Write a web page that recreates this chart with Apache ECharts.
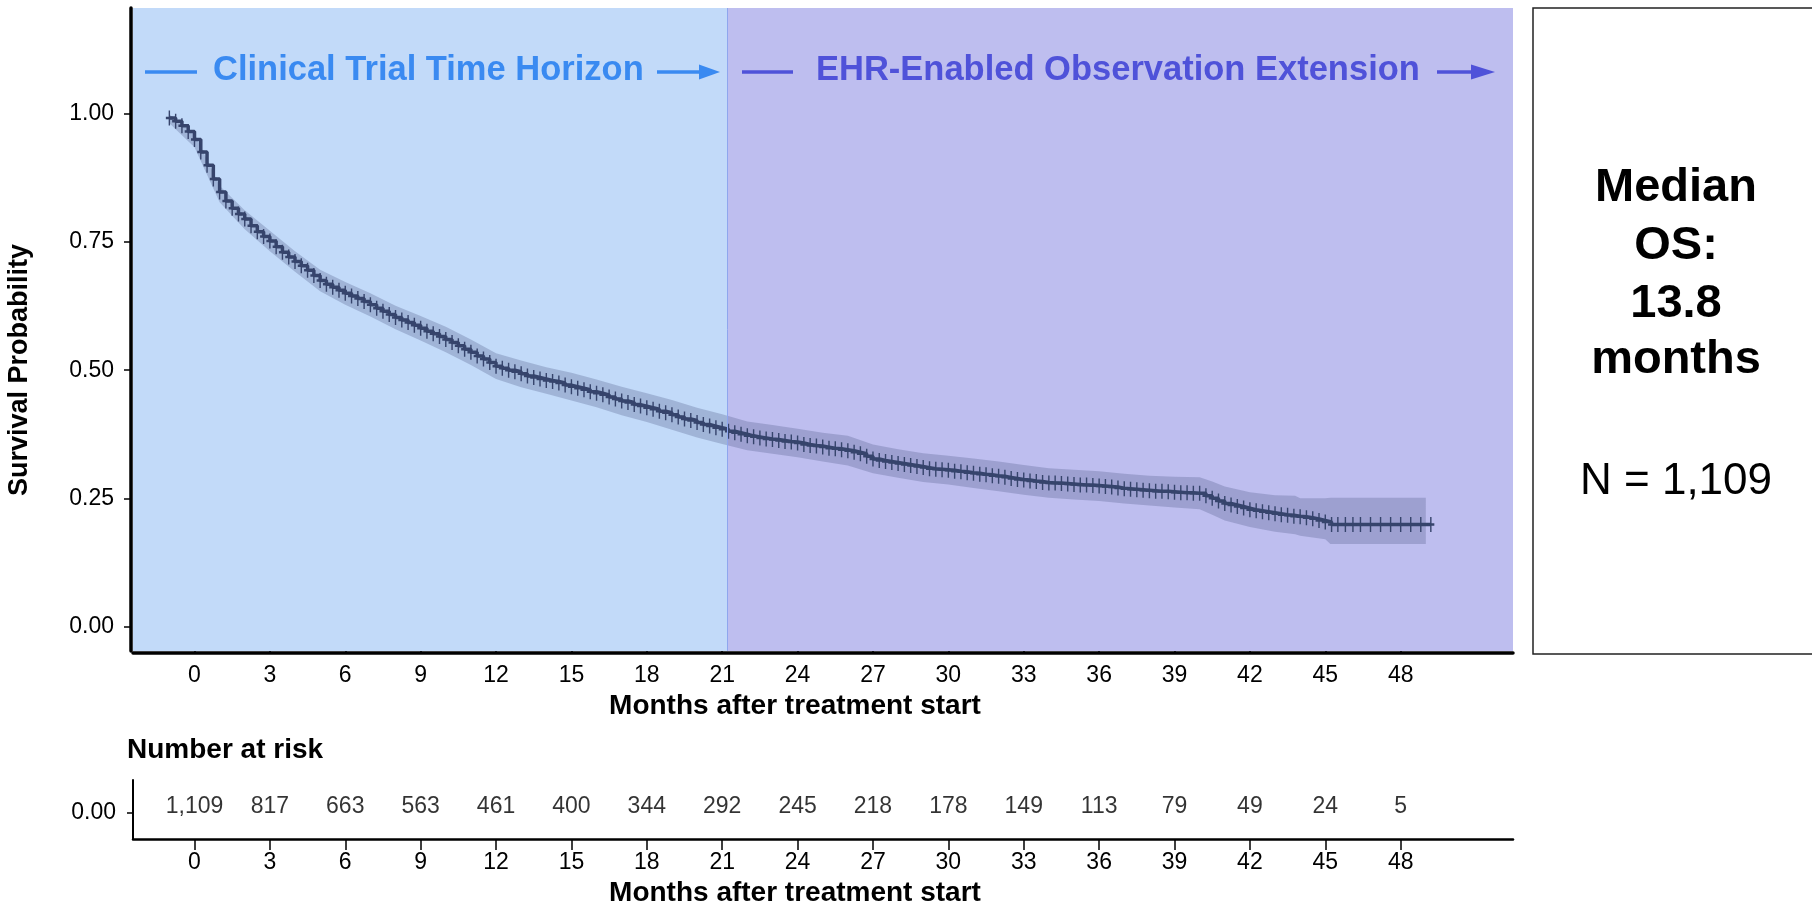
<!DOCTYPE html>
<html>
<head>
<meta charset="utf-8">
<script src="https://cdn.jsdelivr.net/npm/echarts@6/dist/echarts.min.js"></script>
<style>
html,body{margin:0;padding:0;background:#fff;}
#chart{width:1812px;height:908px;}
</style>
</head>
<body>
<div id="chart"></div>
<script>
// ---------------- data ----------------
const xTicks = [0,3,6,9,12,15,18,21,24,27,30,33,36,39,42,45,48];
const yTicks = [0,0.25,0.5,0.75,1];
const phaseBoundary = 21.2;

const kmTime = [
  -1.00,-0.75,-0.50,-0.25,
  0.00,0.25,0.50,0.75,   1.00,1.25,1.50,1.75,   2.00,2.25,2.50,2.75,   3.00,3.25,3.50,3.75,
  4.00,4.25,4.50,4.75,   5.00,5.25,5.50,5.75,   6.00,6.25,6.50,6.75,   7.00,7.25,7.50,7.75,
  8.00,8.25,8.50,8.75,   9.00,9.25,9.50,9.75,   10.00,10.25,10.50,10.75, 11.00,11.25,11.50,11.75,
  12.00,12.25,12.50,12.75, 13.00,13.25,13.50,13.75, 14.00,14.25,14.50,14.75, 15.00,15.25,15.50,15.75,
  16.00,16.25,16.50,16.75, 17.00,17.25,17.50,17.75, 18.00,18.25,18.50,18.75, 19.00,19.25,19.50,19.75,
  20.00,20.25,20.50,20.75, 21.00,21.25,21.50,21.75, 22.00,22.25,22.50,22.75, 23.00,23.25,23.50,23.75,
  24.00,24.25,24.50,24.75, 25.00,25.25,25.50,25.75, 26.00,26.25,26.50,26.75, 27.00,27.25,27.50,27.75,
  28.00,28.25,28.50,28.75, 29.00,29.25,29.50,29.75, 30.00,30.25,30.50,30.75, 31.00,31.25,31.50,31.75,
  32.00,32.25,32.50,32.75, 33.00,33.25,33.50,33.75, 34.00,34.25,34.50,34.75, 35.00,35.25,35.50,35.75,
  36.00,36.25,36.50,36.75, 37.00,37.25,37.50,37.75, 38.00,38.25,38.50,38.75, 39.00,39.25,39.50,39.75,
  40.00,40.25,40.50,40.75, 41.00,41.25,41.50,41.75, 42.00,42.25,42.50,42.75, 43.00,43.25,43.50,43.75,
  44.00,44.25,44.50,44.75, 45.00,45.25,
  45.5,45.8,46.1,46.4,46.8,47.2,47.6,48.0,48.4,48.8,49.2];
const kmSurv = [
  0.992,0.986,0.977,0.966,
  0.950,0.926,0.900,0.873,  0.848,0.830,0.816,0.805,  0.795,0.782,0.770,0.761,  0.752,0.741,0.730,0.721,
  0.712,0.704,0.695,0.685,  0.675,0.668,0.662,0.656,  0.650,0.645,0.640,0.634,  0.628,0.621,0.615,0.609,
  0.603,0.598,0.593,0.588,  0.582,0.576,0.571,0.566,  0.560,0.554,0.548,0.541,  0.535,0.528,0.522,0.515,
  0.508,0.504,0.500,0.497,  0.493,0.489,0.486,0.483,  0.480,0.478,0.475,0.471,  0.468,0.465,0.462,0.458,
  0.455,0.452,0.448,0.444,  0.440,0.437,0.433,0.430,  0.427,0.424,0.420,0.417,  0.413,0.409,0.405,0.402,
  0.398,0.394,0.391,0.388,  0.385,0.381,0.378,0.375,  0.372,0.370,0.368,0.366,  0.365,0.363,0.361,0.360,
  0.358,0.355,0.353,0.352,  0.350,0.348,0.347,0.345,  0.343,0.340,0.337,0.332,  0.327,0.324,0.322,0.320,
  0.318,0.316,0.314,0.312,  0.310,0.308,0.307,0.306,  0.305,0.303,0.302,0.300,  0.299,0.297,0.296,0.294,
  0.293,0.291,0.289,0.287,  0.286,0.284,0.283,0.281,  0.280,0.280,0.279,0.278,  0.277,0.276,0.276,0.275,
  0.274,0.273,0.272,0.270,  0.269,0.268,0.267,0.266,  0.265,0.264,0.264,0.263,  0.262,0.261,0.261,0.260,
  0.260,0.255,0.250,0.245,  0.240,0.237,0.234,0.231,  0.228,0.226,0.224,0.222,  0.220,0.218,0.217,0.215,
  0.214,0.212,0.210,0.207,  0.204,0.199,
  0.199,0.199,0.199,0.199,0.199,0.199,0.199,0.199,0.199,0.199,0.199];

const bandTime = [-1,0,1,2,3,4,5,6,7,8,9,10,11,12,13,14,15,16,17,18,19,20,21,22,23,24,25,26,27,28,29,30,31,32,33,34,35,36,37,38,39,40,40.5,41,42,43,43.8,44,45,45.2,49.0];
const bandLow = [0.982,0.935,0.828,0.775,0.732,0.692,0.654,0.628,0.605,0.580,0.558,0.535,0.510,0.483,0.467,0.454,0.441,0.428,0.412,0.399,0.384,0.369,0.356,0.344,0.337,0.330,0.322,0.314,0.299,0.290,0.282,0.277,0.270,0.264,0.257,0.251,0.248,0.245,0.240,0.236,0.232,0.229,0.218,0.207,0.194,0.185,0.180,0.177,0.170,0.161,0.161];
const bandHigh = [0.999,0.962,0.860,0.812,0.772,0.732,0.696,0.672,0.650,0.626,0.606,0.585,0.560,0.533,0.519,0.506,0.495,0.482,0.468,0.455,0.442,0.427,0.414,0.400,0.393,0.386,0.378,0.372,0.355,0.346,0.338,0.333,0.328,0.322,0.315,0.309,0.306,0.303,0.298,0.294,0.292,0.291,0.283,0.273,0.262,0.256,0.255,0.250,0.250,0.251,0.251];

const riskTime = [0,3,6,9,12,15,18,21,24,27,30,33,36,39,42,45,48];
const riskCount = [1109,817,663,563,461,400,344,292,245,218,178,149,113,79,49,24,5];

const titleLeft = 'Clinical Trial Time Horizon';
const titleRight = 'EHR-Enabled Observation Extension';
const axisTitleX = 'Months after treatment start';
const axisTitleY = 'Survival Probability';
const riskTitle = 'Number at risk';
const boxLines = ['Median', 'OS:', '13.8', 'months'];
const boxN = 'N = 1,109';

// ---------------- layout constants ----------------
const FONT = '"Liberation Sans", Arial, Helvetica, sans-serif';
const XMIN = -2.447, XMAX = 52.47;
const YMIN = -0.0478, YMAX = 1.2068;
const BLUE_BG = '#C2DAF9', PURPLE_BG = '#BEBEEF';
const BLUE_TXT = '#3A8AF1', PURPLE_TXT = '#4F52D9';
const CURVE = '#36446C';

const kmData = [];
for (let i = 0; i < Math.min(kmTime.length, kmSurv.length); i++) kmData.push([kmTime[i], kmSurv[i]]);
const riskData = riskTime.map((t, i) => [t, 0.23, riskCount[i]]);

const chart = echarts.init(document.getElementById('chart'), null, {renderer: 'canvas'});

const plusPath = 'path://M4,0L6,0L6,5L10,5L10,7L6,7L6,12L4,12L4,7L0,7L0,5L4,5Z';

function txt(x, y, text, size, weight, color, align, extra) {
  return Object.assign({
    type: 'text', x: x, y: y, z: 50,
    style: {
      text: text, fill: color, fontSize: size, fontWeight: weight, fontFamily: FONT,
      align: align || 'center', verticalAlign: 'middle',
      textAlign: align || 'center', textVerticalAlign: 'middle'
    }
  }, extra || {});
}

const graphics = [
  // right summary box
  {type: 'rect', shape: {x: 1533, y: 8, width: 320, height: 646}, style: {fill: '#fff', stroke: '#222', lineWidth: 1.5}, z: 40},
  txt(1676, 188, boxLines[0], 47, 'bold', '#000'),
  txt(1676, 246, boxLines[1], 47, 'bold', '#000'),
  txt(1676, 304, boxLines[2], 47, 'bold', '#000'),
  txt(1676, 360, boxLines[3], 47, 'bold', '#000'),
  txt(1676, 482, boxN, 44, 'normal', '#000'),
  // phase titles with arrows
  {type: 'line', shape: {x1: 145, y1: 72, x2: 197, y2: 72}, style: {stroke: BLUE_TXT, lineWidth: 3.5}, z: 50},
  txt(213, 70, titleLeft, 34.5, 'bold', BLUE_TXT, 'left'),
  {type: 'line', shape: {x1: 657, y1: 72, x2: 702, y2: 72}, style: {stroke: BLUE_TXT, lineWidth: 3.5}, z: 50},
  {type: 'polygon', shape: {points: [[699, 64.5], [720, 72], [699, 79.5]]}, style: {fill: BLUE_TXT}, z: 50},
  {type: 'line', shape: {x1: 742, y1: 72, x2: 793, y2: 72}, style: {stroke: PURPLE_TXT, lineWidth: 3.5}, z: 50},
  txt(816, 70, titleRight, 34.5, 'bold', PURPLE_TXT, 'left'),
  {type: 'line', shape: {x1: 1437, y1: 72, x2: 1474, y2: 72}, style: {stroke: PURPLE_TXT, lineWidth: 3.5}, z: 50},
  {type: 'polygon', shape: {points: [[1471, 64.5], [1495, 72], [1471, 79.5]]}, style: {fill: PURPLE_TXT}, z: 50},
  // axis titles
  txt(20, 370, axisTitleY, 27, 'bold', '#000', 'center', {rotation: Math.PI / 2}),
  txt(795, 706, axisTitleX, 28, 'bold', '#000'),
  txt(127, 750, riskTitle, 28, 'bold', '#000', 'left'),
  txt(795, 893, axisTitleX, 28, 'bold', '#000')
];

const option = {
  animation: false,
  backgroundColor: '#fff',
  textStyle: {fontFamily: FONT},
  grid: [
    {left: 133, top: 8, width: 1380, height: 643, containLabel: false},
    {left: 133, top: 780, width: 1380, height: 59, containLabel: false}
  ],
  xAxis: [
    {
      type: 'value', gridIndex: 0, min: XMIN, max: XMAX, offset: 2,
      axisLine: {show: true, onZero: false, lineStyle: {color: '#000', width: 3.5}},
      axisTick: {show: true, inside: true, length: 7, customValues: xTicks, lineStyle: {color: '#000', width: 1.5}},
      axisLabel: {customValues: xTicks, fontSize: 23, color: '#000', margin: 11, fontFamily: FONT},
      splitLine: {show: false}
    },
    {
      type: 'value', gridIndex: 1, min: XMIN, max: XMAX,
      axisLine: {show: true, onZero: false, lineStyle: {color: '#000', width: 2.5}},
      axisTick: {show: true, length: 11, customValues: xTicks, lineStyle: {color: '#000', width: 1.5}},
      axisLabel: {customValues: xTicks, fontSize: 23, color: '#000', margin: 12, fontFamily: FONT},
      splitLine: {show: false}
    }
  ],
  yAxis: [
    {
      type: 'value', gridIndex: 0, min: YMIN, max: YMAX, offset: 2,
      axisLine: {show: true, onZero: false, lineStyle: {color: '#000', width: 3.5}},
      axisTick: {show: true, length: 7, customValues: yTicks, lineStyle: {color: '#000', width: 1.5}},
      axisLabel: {customValues: yTicks, fontSize: 23, color: '#000', margin: 17, fontFamily: FONT,
        formatter: v => v.toFixed(2)},
      splitLine: {show: false}
    },
    {
      type: 'value', gridIndex: 1, min: -1, max: 1.27,
      axisLine: {show: true, onZero: false, lineStyle: {color: '#000', width: 2}},
      axisTick: {show: true, length: 6, customValues: [0], lineStyle: {color: '#000', width: 1.5}},
      axisLabel: {customValues: [0], fontSize: 23, color: '#000', margin: 17, fontFamily: FONT,
        formatter: v => v.toFixed(2)},
      splitLine: {show: false}
    }
  ],
  series: [
    {
      name: 'phases', type: 'line', xAxisIndex: 0, yAxisIndex: 0, data: [], z: 0, silent: true,
      markArea: {
        silent: true,
        data: [
          [{xAxis: XMIN, itemStyle: {color: BLUE_BG}}, {xAxis: phaseBoundary}],
          [{xAxis: phaseBoundary, itemStyle: {color: PURPLE_BG}}, {xAxis: XMAX}]
        ]
      },
      markLine: {
        silent: true, symbol: 'none', label: {show: false},
        lineStyle: {color: '#8FA6EE', width: 1, type: 'solid'},
        data: [{xAxis: phaseBoundary}]
      }
    },
    {
      name: 'ci', type: 'custom', xAxisIndex: 0, yAxisIndex: 0, z: 2, silent: true,
      data: [[0, 0]],
      renderItem: function (params, api) {
        const pts = [];
        for (let i = 0; i < bandTime.length; i++) pts.push(api.coord([bandTime[i], bandHigh[i]]));
        for (let i = bandTime.length - 1; i >= 0; i--) pts.push(api.coord([bandTime[i], bandLow[i]]));
        return {type: 'polygon', shape: {points: pts, smooth: 0}, style: {fill: 'rgba(72,82,128,0.28)'}};
      }
    },
    {
      name: 'KM', type: 'line', xAxisIndex: 0, yAxisIndex: 0, z: 3, step: 'end',
      data: kmData,
      symbol: plusPath, symbolSize: [7, 15], showAllSymbol: true,
      itemStyle: {color: CURVE},
      lineStyle: {color: CURVE, width: 3.5}
    },
    {
      name: 'risk', type: 'scatter', xAxisIndex: 1, yAxisIndex: 1, z: 3,
      data: riskData, symbolSize: 1, itemStyle: {color: 'rgba(0,0,0,0)'},
      label: {
        show: true, position: 'inside', color: '#000', fontSize: 23, fontFamily: FONT,
        formatter: p => p.data[2].toLocaleString('en-US')
      }
    }
  ],
  graphic: graphics
};
chart.setOption(option);
</script>
</body>
</html>
